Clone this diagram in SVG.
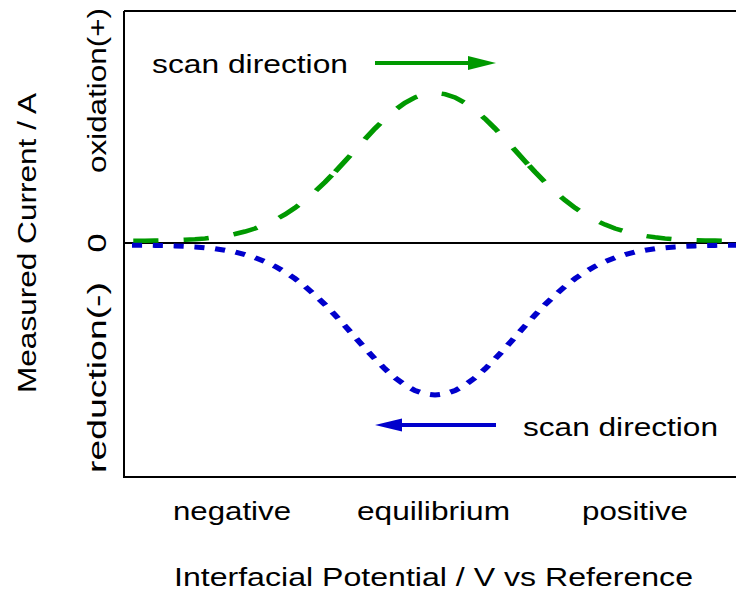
<svg xmlns="http://www.w3.org/2000/svg" width="736" height="592" viewBox="0 0 736 592">
<style>
text{font-family:"Liberation Sans",Arial,sans-serif;font-size:25px;fill:#000}
.axis{fill:none;stroke:#000;stroke-width:2}
.ox{fill:none;stroke:#009900;stroke-width:4.5;stroke-dasharray:20 20}
.red{fill:none;stroke:#0000cc;stroke-width:5;stroke-dasharray:8 8.53}
.garr{stroke:#009900;stroke-width:4}
.barr{stroke:#0000cc;stroke-width:4}
</style>
<rect width="736" height="592" fill="#fff"/>
<g id="frame">
<path class="axis" d="M124 11 H740 M124 11 V477 H740"/>
<line class="axis" x1="124" y1="243" x2="736" y2="243"/>
</g>
<g id="axis-labels">
<text transform="translate(36,243) rotate(-90)" text-anchor="middle" textLength="300" lengthAdjust="spacingAndGlyphs">Measured Current / A</text>
<text transform="translate(106,90.5) rotate(-90)" text-anchor="middle" textLength="165" lengthAdjust="spacingAndGlyphs">oxidation(+)</text>
<text transform="translate(106,243) rotate(-90)" text-anchor="middle" textLength="19" lengthAdjust="spacingAndGlyphs">0</text>
<text transform="translate(106,377.5) rotate(-90)" text-anchor="middle" textLength="191" lengthAdjust="spacingAndGlyphs">reduction(-)</text>
<text x="173" y="520" textLength="118" lengthAdjust="spacingAndGlyphs">negative</text>
<text x="357" y="520" textLength="153" lengthAdjust="spacingAndGlyphs">equilibrium</text>
<text x="582" y="520" textLength="106" lengthAdjust="spacingAndGlyphs">positive</text>
<text x="174" y="586" textLength="519" lengthAdjust="spacingAndGlyphs">Interfacial Potential / V vs Reference</text>
</g>
<g id="connectors" transform="translate(435,0) scale(1.26,1)">
<g id="oxidation-curve">
<path class="ox" stroke-dashoffset="-1" d="M-240.476 240.8 l2.381 0 l7.937 0 l7.937 -0.2 l7.937 -0.2 l7.937 -0.3 l7.937 -0.4 l7.937 -0.5 l7.937 -0.8 l7.937 -1.1 l7.937 -1.4 l7.937 -1.9 l7.937 -2.5 l7.937 -3 l7.937 -3.9 l7.937 -4.6 l7.937 -5.6 l7.937 -6.6 l7.937 -7.6 l7.937 -8.6 l7.937 -9.5 l7.937 -10.2"/>
<path class="ox" stroke-dashoffset="159.6" d="M-79.365 171.9 l7.937 -10.7 l7.937 -11.1 l7.937 -11 l7.937 -10.6 l7.937 -9.8 l7.937 -8.7 l7.937 -7.2 l7.937 -5.4 l7.937 -3.3 l7.937 -1.1 l7.937 1.1 l7.937 3.3 l7.937 5.4 l7.937 7.2 l7.937 8.7 l7.937 9.8 l7.937 10.6 l7.937 11 l7.937 11.1 L73.84 164.45"/>
<path class="ox" stroke-dashoffset="398.5" d="M73.84 164.45 L79.365 171.9 l7.937 10.2 l7.937 9.5 l7.937 8.6 l7.937 7.6 l7.937 6.6 l7.937 5.6 l7.937 4.6 l7.937 3.9 l7.937 3 l7.937 2.5 l7.937 1.9 l7.937 1.4 l7.937 1.1 l7.937 0.8 l7.937 0.5 l7.937 0.4 l7.937 0.3 l7.937 0.2 l7.937 0.2 l7.937 0 l0.794 0"/>
</g>
<path id="reduction-curve" class="red" d="M-240.476 245.2 l2.381 0 l7.937 0 l7.937 0.2 l7.937 0.2 l7.937 0.3 l7.937 0.4 l7.937 0.6 l7.937 0.8 l7.937 1.1 l7.937 1.4 l7.937 1.9 l7.937 2.5 l7.937 3.1 l7.937 3.9 l7.937 4.7 l7.937 5.7 l7.937 6.7 l7.937 7.7 l7.937 8.7 l7.937 9.5 l7.937 10.4 l7.937 10.9 l7.937 11.2 l7.937 11.2 l7.937 10.7 l7.937 10 l7.937 8.8 l7.937 7.3 l7.937 5.4 l7.937 3.4 l7.937 1.1 l7.937 -1.1 l7.937 -3.4 l7.937 -5.4 l7.937 -7.3 l7.937 -8.8 l7.937 -10 l7.937 -10.7 l7.937 -11.2 l7.937 -11.2 l7.937 -10.9 l7.937 -10.4 l7.937 -9.5 l7.937 -8.7 l7.937 -7.7 l7.937 -6.7 l7.937 -5.7 l7.937 -4.7 l7.937 -3.9 l7.937 -3.1 l7.937 -2.5 l7.937 -1.9 l7.937 -1.4 l7.937 -1.1 l7.937 -0.8 l7.937 -0.6 l7.937 -0.4 l7.937 -0.3 l7.937 -0.2 l7.937 -0.2 l7.937 0 l0.794 0"/>
</g>
<g id="scan-forward">
<text x="152" y="73" textLength="196" lengthAdjust="spacingAndGlyphs">scan direction</text>
<line class="garr" x1="375" y1="63" x2="472" y2="63"/>
<polygon points="468,56 496,63 468,70" fill="#009900"/>
</g>
<g id="scan-reverse">
<text x="523" y="436" textLength="195" lengthAdjust="spacingAndGlyphs">scan direction</text>
<line class="barr" x1="398" y1="425" x2="496" y2="425"/>
<polygon points="375,425 402,418.5 402,431.5" fill="#0000cc"/>
</g>
</svg>
